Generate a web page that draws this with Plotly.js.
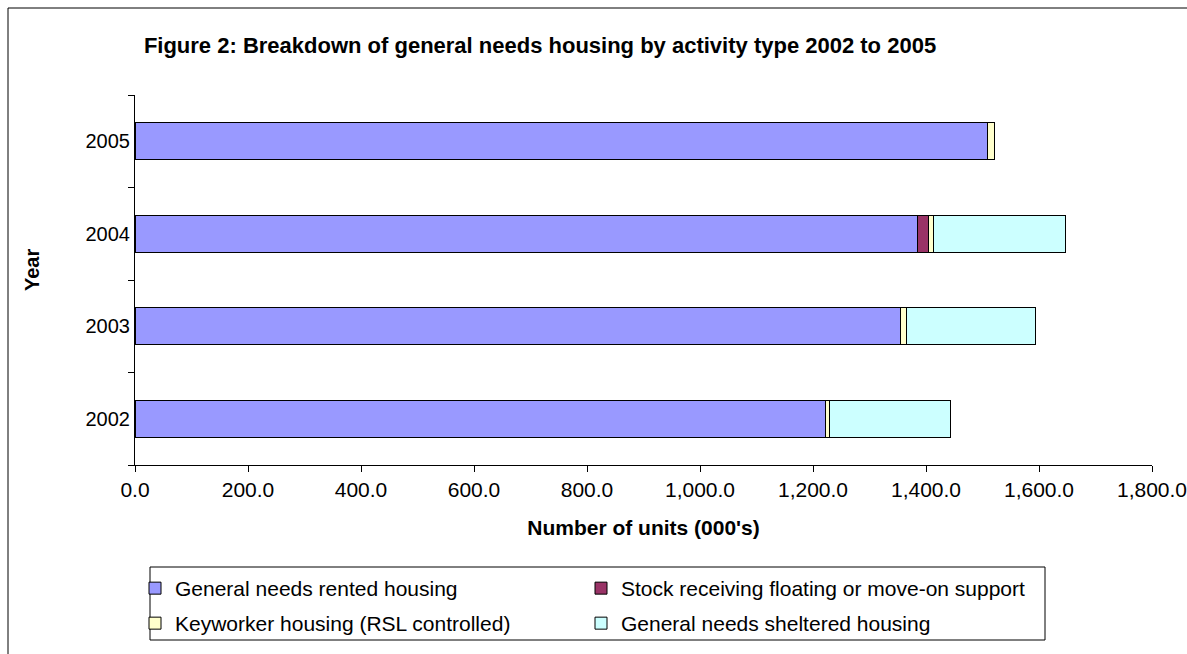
<!DOCTYPE html>
<html>
<head>
<meta charset="utf-8">
<script src="https://cdn.plot.ly/plotly-3.0.1.min.js"></script>
<style>
html,body{margin:0;padding:0;background:#fff;}
#chart{width:1187px;height:654px;}
</style>
</head>
<body>
<div id="chart"></div>
<script>
var years = ["2002", "2003", "2004", "2005"];
var seriesNames = [
  "General needs rented housing",
  "Stock receiving floating or move-on support",
  "Keyworker housing (RSL controlled)",
  "General needs sheltered housing"
];
var generalRented = [1222, 1355, 1385, 1508];
var floatingSupport = [0, 0, 20, 0];
var keyworker = [8, 10, 8, 14];
var sheltered = [213, 228, 234, 0];
var seriesColors = ["#9999FF", "#993366", "#FFFFCC", "#CCFFFF"];

var legendIds = ["legend", "legend2", "legend3", "legend4"];
var values = [generalRented, floatingSupport, keyworker, sheltered];
var traces = values.map(function (v, i) {
  return {
    type: "bar",
    orientation: "h",
    name: seriesNames[i],
    y: years,
    x: v,
    legend: legendIds[i],
    marker: {color: seriesColors[i], line: {color: "#000000", width: 1}},
    hoverinfo: "x+name"
  };
});

var W = 1187, H = 654, L = 135, R = 35, T = 95, B = 189;
var pw = W - L - R, ph = H - T - B;
function px(x) { return (x - L) / pw; }
function py(y) { return (H - B - y) / ph; }

function legendAt(x, y) {
  return {
    xref: "container", yref: "container",
    x: x / W, xanchor: "left",
    y: 1 - y / H, yanchor: "top",
    borderwidth: 0, bgcolor: "rgba(0,0,0,0)",
    font: {size: 21},
    itemwidth: 30
  };
}

var layout = {
  width: W, height: H,
  margin: {l: L, r: R, t: T, b: B, autoexpand: false},
  barmode: "stack",
  bargap: 0.6,
  paper_bgcolor: "#ffffff",
  plot_bgcolor: "#ffffff",
  font: {family: "Liberation Sans, Arial, sans-serif", size: 20, color: "#000"},
  title: {
    text: "<b>Figure 2: Breakdown of general needs housing by activity type 2002 to 2005</b>",
    font: {size: 22, color: "#000"},
    x: 540 / W, xanchor: "center", xref: "container",
    y: 1 - 45 / H, yanchor: "middle", yref: "container"
  },
  xaxis: {
    range: [0, 1800],
    dtick: 200,
    tickformat: ",.1f",
    tickangle: 0,
    ticklabeloverflow: "allow",
    ticks: "outside", ticklen: 6, tickcolor: "#000",
    showline: true, linecolor: "#000", linewidth: 1,
    showgrid: false, zeroline: false,
    tickfont: {size: 21},
    title: {text: "<b>Number of units (000's)</b>", font: {size: 21}, standoff: 20}
  },
  yaxis: {
    type: "category",
    categoryorder: "array", categoryarray: years,
    range: [-0.5, 3.5],
    ticks: "outside", ticklen: 6, tickcolor: "#000",
    tickson: "boundaries",
    showline: true, linecolor: "#000", linewidth: 1,
    showgrid: false, zeroline: false,
    tickfont: {size: 20}
  },
  annotations: [{
    text: "<b>Year</b>", textangle: -90,
    xref: "paper", yref: "paper",
    x: px(32), y: py(270), xanchor: "center", yanchor: "middle",
    showarrow: false, font: {size: 20}
  }],
  legend: legendAt(135, 568),
  legend2: legendAt(581, 568),
  legend3: legendAt(135, 603),
  legend4: legendAt(581, 603),
  shapes: [
    {
      type: "rect", xref: "paper", yref: "paper", layer: "below",
      x0: px(8), x1: px(1210), y0: py(680), y1: py(8),
      line: {color: "#000", width: 1}, fillcolor: "rgba(0,0,0,0)"
    },
    {
      type: "rect", xref: "paper", yref: "paper", layer: "above",
      x0: px(150), x1: px(1045), y0: py(640), y1: py(567),
      line: {color: "#000", width: 1}, fillcolor: "rgba(0,0,0,0)"
    }
  ],
  showlegend: true
};

Plotly.newPlot("chart", traces, layout, {displayModeBar: false, staticPlot: true});
</script>
</body>
</html>
